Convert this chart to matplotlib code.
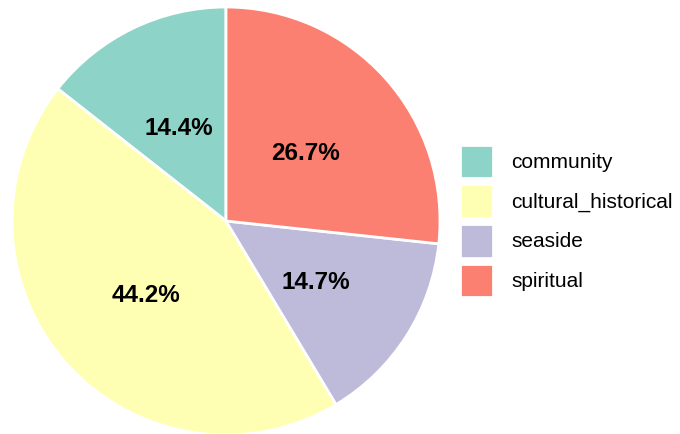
import matplotlib.pyplot as plt

plt.rcParams['font.family'] = ['Liberation Sans', 'DejaVu Sans']

categories = ['community', 'cultural_historical', 'seaside', 'spiritual']
shares = [14.4, 44.2, 14.7, 26.7]
colors = ['#8dd3c7', '#ffffb3', '#bebada', '#fb8072']

W, H = 680, 434
cx, cy, r = 226, 434 - 221, 214

fig = plt.figure(figsize=(W / 100, H / 100), dpi=100)
ax = fig.add_axes([(cx - r) / W, (cy - r) / H, 2 * r / W, 2 * r / H])

wedges, texts, autotexts = ax.pie(
    shares, colors=colors, startangle=90, counterclock=True,
    autopct='%1.1f%%', pctdistance=0.5,
    wedgeprops=dict(edgecolor='white', linewidth=2, clip_on=False),
    textprops=dict(fontsize=17.5, fontweight='bold', color='black'),
    radius=1.0)
# nudge the percentage labels down a little
for t in autotexts:
    x, y = t.get_position()
    t.set_position((x, y - 4 / r))
ax.set_aspect('equal')
ax.set_xlim(-1, 1)
ax.set_ylim(-1, 1)
ax.axis('off')

fig.legend(wedges, categories, loc='center left',
           bbox_to_anchor=(460 / W, (434 - 221) / H),
           frameon=False, fontsize=15, borderpad=0, borderaxespad=0,
           handlelength=1.6, handleheight=2.1,
           labelspacing=0.3, handletextpad=0.85)

fig.savefig('out.png', dpi=100)
